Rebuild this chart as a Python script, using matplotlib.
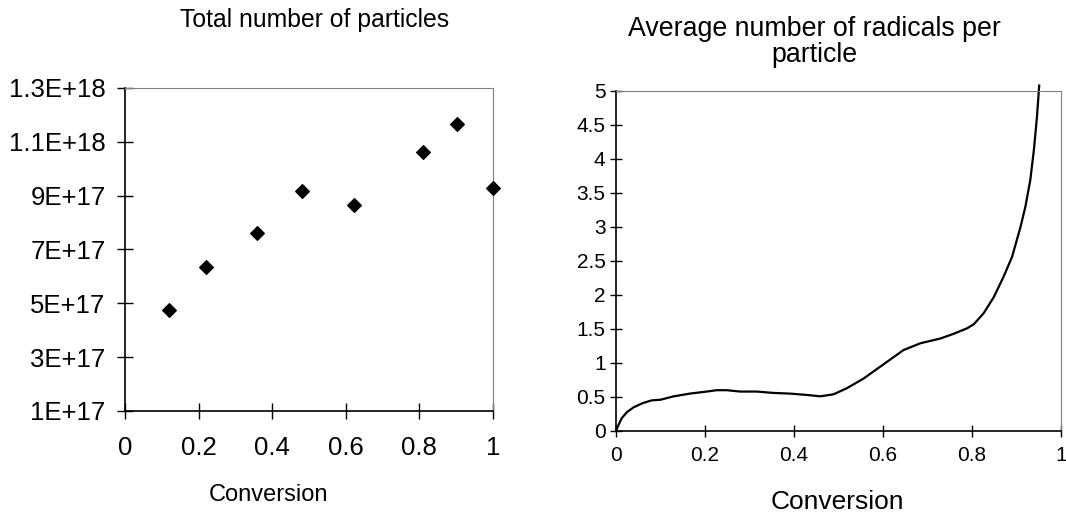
import numpy as np
import matplotlib
matplotlib.use('Agg')
import matplotlib.pyplot as plt

plt.rcParams['font.family'] = ['Liberation Sans', 'DejaVu Sans']

# Left panel: total number of particles vs conversion
conv_pts = [0.12, 0.221, 0.359, 0.481, 0.622, 0.81, 0.901, 1.0]
n_particles = [4.77e17, 6.36e17, 7.63e17, 9.19e17, 8.67e17, 1.063e18, 1.166e18, 9.27e17]
left_yticks = [1e17, 3e17, 5e17, 7e17, 9e17, 1.1e18, 1.3e18]
left_ylabels = ['1E+17', '3E+17', '5E+17', '7E+17', '9E+17', '1.1E+18', '1.3E+18']
left_xticks = [0, 0.2, 0.4, 0.6, 0.8, 1]
left_xlabels = ['0', '0.2', '0.4', '0.6', '0.8', '1']

# Right panel: average number of radicals per particle
conv_curve = [0.0, 0.005, 0.013, 0.025, 0.04, 0.06, 0.08, 0.1, 0.13, 0.166,
              0.204, 0.226, 0.249, 0.279, 0.316, 0.354, 0.391, 0.429, 0.459,
              0.489, 0.519, 0.556, 0.601, 0.646, 0.684, 0.729, 0.759, 0.789,
              0.804, 0.826, 0.849, 0.871, 0.89, 0.909, 0.92, 0.931, 0.939,
              0.946, 0.951]
n_bar = [0.0, 0.08, 0.19, 0.28, 0.35, 0.41, 0.45, 0.46, 0.51, 0.55,
         0.58, 0.60, 0.60, 0.58, 0.58, 0.56, 0.55, 0.53, 0.51,
         0.54, 0.63, 0.77, 0.98, 1.19, 1.29, 1.36, 1.43, 1.51,
         1.57, 1.73, 1.97, 2.27, 2.56, 3.0, 3.3, 3.69, 4.13,
         4.62, 5.08]
right_yticks = [0, 0.5, 1, 1.5, 2, 2.5, 3, 3.5, 4, 4.5, 5]
right_ylabels = ['0', '0.5', '1', '1.5', '2', '2.5', '3', '3.5', '4', '4.5', '5']
right_xticks = [0, 0.2, 0.4, 0.6, 0.8, 1]
right_xlabels = ['0', '0.2', '0.4', '0.6', '0.8', '1']

W, H = 1066, 515
fig = plt.figure(figsize=(W / 100, H / 100), dpi=100)

def frac(x0, y0, x1, y1):
    """pixel box (left, top, right, bottom) -> figure fraction rect"""
    return [x0 / W, 1 - y1 / H, (x1 - x0) / W, (y1 - y0) / H]

def style_spines(ax):
    for s in ['left', 'bottom']:
        ax.spines[s].set_color('black')
        ax.spines[s].set_linewidth(1.2)
    for s in ['top', 'right']:
        ax.spines[s].set_color('#808080')
        ax.spines[s].set_linewidth(0.8)

# Left panel
ax1 = fig.add_axes(frac(125, 88, 493, 411))
ax1.scatter(conv_pts, n_particles, marker='D', s=48, color='black', zorder=3, clip_on=False)
ax1.set_xlim(0, 1)
ax1.set_ylim(1e17, 1.3e18)
ax1.set_xticks(left_xticks)
ax1.set_xticklabels(left_xlabels)
ax1.set_yticks(left_yticks)
ax1.set_yticklabels(left_ylabels)
ax1.tick_params(axis='both', direction='inout', length=12, width=1, labelsize=18.5, colors='black')
ax1.tick_params(axis='x', pad=12)
ax1.tick_params(axis='y', pad=8)
style_spines(ax1)
fig.text(315 / W, 1 - 20 / H, 'Total number of particles', ha='center', va='center', fontsize=17.8)
fig.text(268 / W, 1 - 495 / H, 'Conversion', ha='center', va='center', fontsize=17)

# Right panel
ax2 = fig.add_axes(frac(616, 91, 1061, 431))
ax2.plot(conv_curve, n_bar, color='black', lw=1.6, clip_on=False)
ax2.set_xlim(0, 1)
ax2.set_ylim(0, 5)
ax2.set_xticks(right_xticks)
ax2.set_xticklabels(right_xlabels, fontsize=15)
ax2.set_yticks(right_yticks)
ax2.set_yticklabels(right_ylabels, fontsize=15)
ax2.tick_params(axis='x', direction='inout', length=9, width=1, pad=6)
ax2.tick_params(axis='y', direction='inout', length=9, width=1, pad=3)
style_spines(ax2)
fig.text(814 / W, 1 - 42 / H, 'Average number of radicals per\nparticle', ha='center', va='center',
         fontsize=19.3, linespacing=1.05)
fig.text(837 / W, 1 - 502 / H, 'Conversion', ha='center', va='center', fontsize=19)

fig.savefig('out.png', dpi=100)
